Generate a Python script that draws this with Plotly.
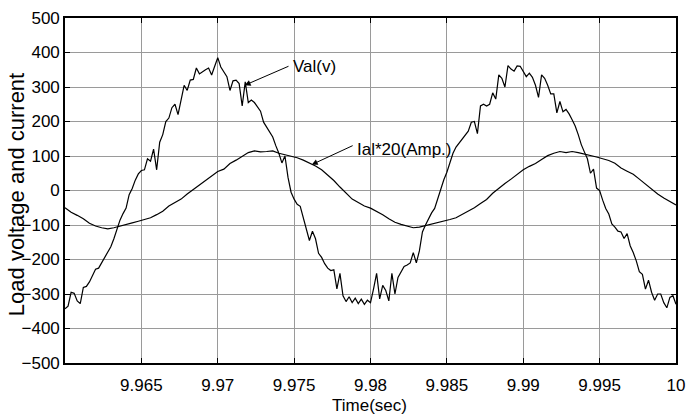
import numpy as np
import plotly.graph_objects as go

# ---- data ----
t_start = 9.96
v_step = 0.0002   # sampling step of the voltage trace (s)
i_step = 0.0004   # sampling step of the current trace (s)

voltage = [
    -343, -335, -295, -298, -320, -328, -281, -278, -265, -245,
    -228, -225, -210, -194, -177, -163, -140, -110, -86, -67,
    -51, -12, 6, 30, 48, 58, 60, 92, 85, 120,
    60, 140, 162, 200,
    210, 240, 250, 220, 265, 305, 290, 320, 322, 355,
    338, 345, 350, 355, 335, 360, 385, 358, 342, 330,
    290, 318, 320, 310, 245, 315, 255, 262, 255, 242,
    230, 198, 183,
    172, 155, 130, 108, 80, 100, 38, -5, -25, -40,
    -46, -78, -112, -145, -118, -140, -182, -194, -212, -225,
    -232, -230, -285, -240, -305, -322, -308, -325, -312, -328,
    -315, -330, -318,
    -325, -285, -240, -314, -275, -290, -320, -240, -300, -252,
    -235, -220, -216, -210, -180, -210, -175, -120, -100, -82,
    -65, -52, -25, 7, 31, 53, 78, 108, 126, 138,
    150, 160, 172, 198,
    200, 165, 245, 250, 245, 250, 283, 265, 335, 325,
    300, 362, 352, 346, 361, 360, 345, 330, 340, 328,
    305, 270, 335, 325, 305, 280, 280, 225, 258, 228,
    235, 222, 205, 187,
    162, 133, 112, 92, 50, 62, 7, 0, -28, -52,
    -68, -97, -106, -118, -120, -139, -125, -160, -180, -204,
    -235, -243, -286, -260, -295, -318, -300, -300, -325, -340,
    -310, -305, -330,
]

current = [
    -50, -63, -72, -82, -95, -103, -108, -111, -108, -104,
    -99, -94, -89, -84, -79, -70, -60,
    -45, -36, -25, -10, 3, 18, 31, 42, 55, 62,
    78, 88, 100, 110, 115, 112, 113,
    115, 108, 104, 100, 95, 88, 80, 71, 60, 44,
    29, 10, -7, -25, -35, -45, -51,
    -60, -70, -82, -92, -98, -104, -108, -106, -102, -98,
    -94, -89, -84, -79, -70, -60,
    -50, -38, -26, -8, 7, 20, 33, 47, 60, 70,
    78, 90, 101, 108, 113, 110, 113,
    110, 106, 103, 97, 92, 87, 79, 65, 56, 47,
    33, 18, 4, -10, -22, -32, -42,
]

x_tick_vals = [9.965, 9.97, 9.975, 9.98, 9.985, 9.99, 9.995, 10.0]
x_tick_text = ["9.965", "9.97", "9.975", "9.98", "9.985", "9.99", "9.995", "10"]
y_tick_vals = [-500, -400, -300, -200, -100, 0, 100, 200, 300, 400, 500]

assert len(voltage) == 201, len(voltage)
assert len(current) == 101, len(current)

t_v = np.round(t_start + v_step * np.arange(len(voltage)), 6)
t_i = np.round(t_start + i_step * np.arange(len(current)), 6)

FONT = "Liberation Sans, Arial, sans-serif"

fig = go.Figure()
fig.add_trace(go.Scatter(x=t_v, y=voltage, mode="lines",
                         line=dict(color="black", width=1.2), showlegend=False))
fig.add_trace(go.Scatter(x=t_i, y=current, mode="lines",
                         line=dict(color="black", width=1.2), showlegend=False))

axis_common = dict(
    showline=True, linecolor="black", linewidth=1.6, mirror="ticks",
    ticks="inside", ticklen=5, tickcolor="black", tickwidth=1,
    showgrid=True, gridcolor="#9a9a9a", gridwidth=1, zeroline=False,
    tickfont=dict(family=FONT, size=17, color="black"),
)

fig.update_xaxes(range=[9.96, 10.0], tickvals=x_tick_vals, ticktext=x_tick_text,
                 ticklabelstandoff=6, **axis_common)
fig.update_yaxes(range=[-500, 500], tickvals=y_tick_vals, **axis_common)

annotations = [
    # arrows
    dict(x=9.97176, y=305, ax=9.97473, ay=362, xref="x", yref="y",
         axref="x", ayref="y", text="", showarrow=True, arrowhead=2,
         arrowsize=1.2, arrowwidth=1, arrowcolor="black", standoff=0),
    dict(x=9.97615, y=75, ax=9.97893, ay=132, xref="x", yref="y",
         axref="x", ayref="y", text="", showarrow=True, arrowhead=2,
         arrowsize=1.2, arrowwidth=1, arrowcolor="black", standoff=0),
    # labels
    dict(x=9.9748, y=360, xref="x", yref="y", text="Val(v)", showarrow=False,
         xanchor="left", yanchor="middle",
         font=dict(family=FONT, size=17, color="black")),
    dict(x=9.97899, y=118, xref="x", yref="y", text="Ial*20(Amp.)", showarrow=False,
         xanchor="left", yanchor="middle",
         font=dict(family=FONT, size=17, color="black")),
    # axis titles
    dict(x=(374 - 65) / 620, y=-(406 - 363) / 348, xref="paper", yref="paper",
         text="Time(sec)", showarrow=False, xanchor="center", yanchor="middle",
         font=dict(family=FONT, size=17, color="black")),
    dict(x=(16 - 65) / 620, y=(363 - 193) / 348, xref="paper", yref="paper",
         text="Load voltage and current", showarrow=False, textangle=-90,
         xanchor="center", yanchor="middle",
         font=dict(family=FONT, size=22, color="black")),
]

fig.update_layout(
    width=694, height=420,
    margin=dict(l=65, r=9, t=15, b=57),
    paper_bgcolor="white", plot_bgcolor="white",
    annotations=annotations,
    showlegend=False,
)

fig.write_html("out.html")
